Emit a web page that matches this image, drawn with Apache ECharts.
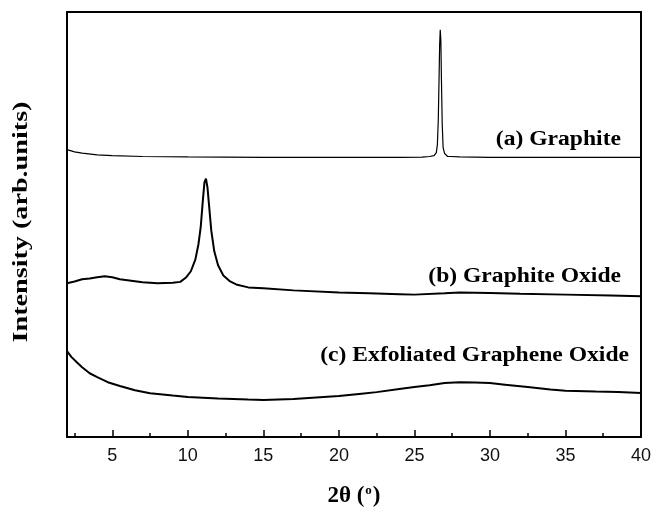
<!DOCTYPE html>
<html>
<head>
<meta charset="utf-8">
<script src="https://cdn.jsdelivr.net/npm/echarts@6/dist/echarts.min.js"></script>
<style>html,body{margin:0;padding:0;background:#fff}#c{width:654px;height:513px}</style>
</head>
<body>
<div id="c"></div>
<script>
// ---- data (2θ in degrees, intensity in arbitrary units) ----
var graphiteX = [2.0,2.5,3.0,4.0,5.0,7.0,10.0,15.0,20.0,24.0,25.5,26.0,26.3,26.45,26.52,26.58,26.63,26.67,26.71,26.75,26.79,26.84,26.9,27.0,27.2,27.4,28.0,30.0,35.0,40.0];
var graphiteY = [67.6,67.1,66.8,66.4,66.2,66.0,65.9,65.8,65.8,65.8,65.85,66.0,66.2,66.9,68.8,74.6,84.0,92.3,95.8,93.4,84.0,73.7,68.1,66.7,66.0,66.0,65.9,65.8,65.8,65.8];

var oxideX = [2.0,2.5,3.0,3.5,4.0,4.5,5.0,5.5,6.0,7.0,8.0,9.0,9.5,9.9,10.2,10.5,10.7,10.85,11.0,11.1,11.2,11.3,11.4,11.55,11.75,12.0,12.35,12.8,13.2,14.0,15.0,17.0,20.0,22.0,24.0,25.0,27.0,28.0,30.0,32.0,35.0,38.0,40.0];
var oxideY = [36.2,36.6,37.1,37.3,37.6,37.8,37.6,37.1,36.9,36.4,36.2,36.3,36.5,37.6,39.0,41.8,45.3,49.3,55.9,59.9,60.8,58.7,54.7,48.6,43.7,40.4,38.0,36.6,35.9,35.2,35.0,34.5,34.0,33.8,33.6,33.5,33.8,34.0,33.9,33.7,33.5,33.3,33.1];

var exfolX = [2.0,2.3,2.7,3.0,3.5,4.0,4.7,5.5,6.5,7.5,9.0,10.0,12.0,14.0,15.0,17.0,19.0,20.0,21.5,22.5,24.0,25.0,26.0,27.0,28.0,29.0,30.0,31.0,32.5,34.0,35.0,37.0,38.5,40.0];
var exfolY = [20.2,18.8,17.4,16.4,15.0,14.1,12.9,12.0,11.0,10.3,9.74,9.39,9.04,8.8,8.69,8.92,9.39,9.62,10.2,10.56,11.27,11.74,12.2,12.68,12.9,12.8,12.68,12.32,11.74,11.15,10.9,10.68,10.56,10.33];

var majorTicks = [5,10,15,20,25,30,35,40];
var minorTicks = [2.5,7.5,12.5,17.5,22.5,27.5,32.5,37.5];

var seriesNames = ['(a) Graphite','(b) Graphite Oxide','(c) Exfoliated Graphene Oxide'];
var yTitle = 'Intensity (arb.units)';

function zip(xs, ys){ return xs.map(function(x,i){ return [x, ys[i]]; }); }

var chart = echarts.init(document.getElementById('c'), null, {renderer:'canvas'});
var serif = '"Liberation Serif","Times New Roman",serif';
var sans = '"Liberation Sans",Arial,sans-serif';

function label(text, x, y, size, sx, rot) {
  return {type: 'text', x: x, y: y, rotation: rot || 0, scaleX: sx, scaleY: 1,
    style: {text: text, font: 'bold ' + size + 'px ' + serif, fill: '#000', align: rot ? 'center' : 'right', verticalAlign: 'middle'}};
}

var option = {
  animation: false,
  backgroundColor: '#fff',
  grid: {left: 67, right: 13, top: 12, bottom: 75, containLabel: false},
  xAxis: [
    {
      type: 'value', min: 2, max: 40, position: 'bottom',
      axisLine: {show: true, onZero: false, lineStyle: {color: '#000', width: 2}},
      axisTick: {show: true, inside: true, length: 7, customValues: majorTicks, lineStyle: {color: '#000', width: 1.5}},
      axisLabel: {show: true, customValues: majorTicks, fontSize: 18, color: '#111', fontFamily: sans, margin: 10},
      splitLine: {show: false},
      name: '{n|2θ (}{s|o}{n|)}',
      nameLocation: 'middle', nameGap: 47,
      nameTextStyle: {
        rich: {
          n: {fontSize: 23, fontWeight: 'bold', fontFamily: serif, color: '#000'},
          s: {fontSize: 13, fontWeight: 'bold', fontFamily: serif, color: '#000', padding: [0,1,12,1]}
        }
      }
    },
    {
      type: 'value', min: 2, max: 40, position: 'bottom', gridIndex: 0,
      axisLine: {show: false, onZero: false},
      axisTick: {show: true, inside: true, length: 4, customValues: minorTicks, lineStyle: {color: '#000', width: 1.5}},
      axisLabel: {show: false},
      splitLine: {show: false}
    },
    {
      type: 'value', min: 2, max: 40, position: 'top',
      axisLine: {show: true, onZero: false, lineStyle: {color: '#000', width: 2}},
      axisTick: {show: false}, axisLabel: {show: false}, splitLine: {show: false}
    }
  ],
  yAxis: [
    {
      type: 'value', min: 0, max: 100, position: 'left',
      axisLine: {show: true, onZero: false, lineStyle: {color: '#000', width: 2}},
      axisTick: {show: false}, axisLabel: {show: false}, splitLine: {show: false}
    },
    {
      type: 'value', min: 0, max: 100, position: 'right',
      axisLine: {show: true, onZero: false, lineStyle: {color: '#000', width: 2}},
      axisTick: {show: false}, axisLabel: {show: false}, splitLine: {show: false}
    }
  ],
  series: [
    {name: seriesNames[0], type: 'line', data: zip(graphiteX, graphiteY), showSymbol: false, symbol: 'none',
     lineStyle: {color: '#000', width: 1.2}, xAxisIndex: 0, yAxisIndex: 0},
    {name: seriesNames[1], type: 'line', data: zip(oxideX, oxideY), showSymbol: false, symbol: 'none',
     lineStyle: {color: '#000', width: 2}, xAxisIndex: 0, yAxisIndex: 0},
    {name: seriesNames[2], type: 'line', data: zip(exfolX, exfolY), showSymbol: false, symbol: 'none',
     lineStyle: {color: '#000', width: 2}, xAxisIndex: 0, yAxisIndex: 0}
  ],
  graphic: [
    label(seriesNames[0], 621, 140, 20, 1.18),
    label(seriesNames[1], 621, 277, 20, 1.18),
    label(seriesNames[2], 629, 356, 20, 1.18),
    label(yTitle, 21, 222, 22, 1.28, Math.PI / 2)
  ]
};
chart.setOption(option);
</script>
</body>
</html>
